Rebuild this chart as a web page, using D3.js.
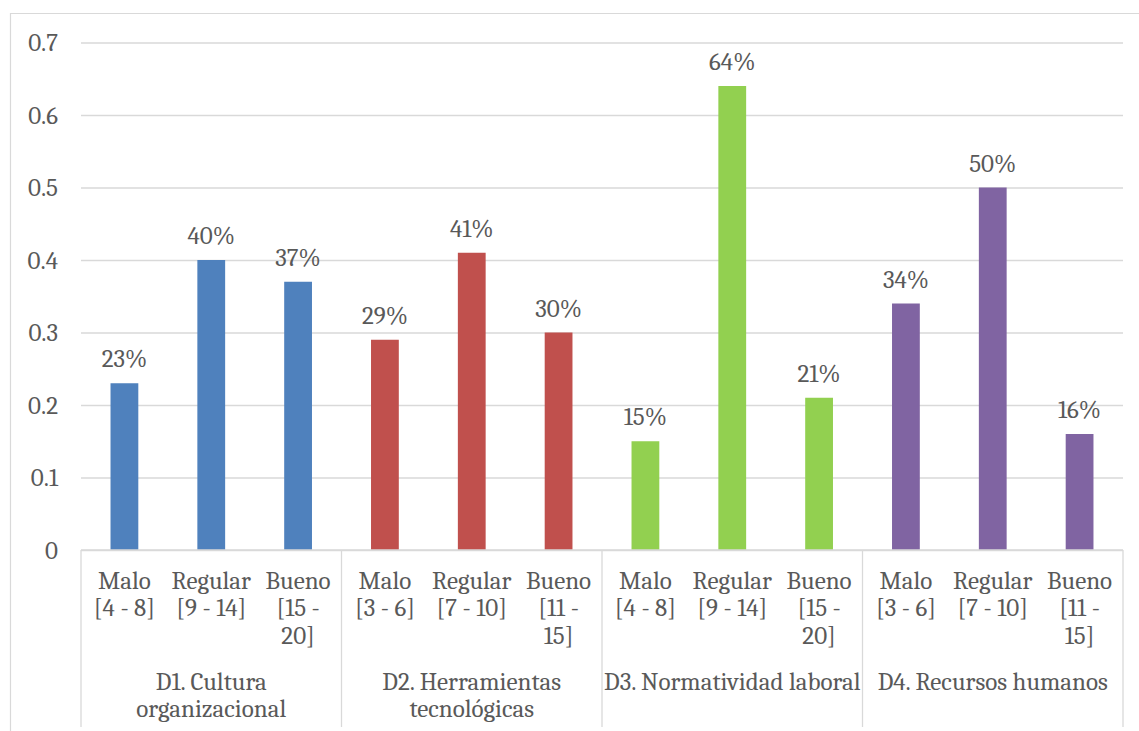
<!DOCTYPE html>
<html>
<head>
<meta charset="utf-8">
<script src="https://cdn.jsdelivr.net/npm/d3@7"></script>
<style>
  html, body { margin: 0; padding: 0; background: #fff; }
  svg { display: block; }
</style>
</head>
<body>
<svg id="chart" width="1139" height="731"></svg>
<script>
// Dimension groups and their levels (label lines as they wrap under the axis)
const groups = [
  ["D1. Cultura", "organizacional"],
  ["D2. Herramientas", "tecnológicas"],
  ["D3. Normatividad laboral"],
  ["D4. Recursos humanos"]
];
const categoryLabels = [
  [["Malo", "[4 - 8]"], ["Regular", "[9 - 14]"], ["Bueno", "[15 -", "20]"]],
  [["Malo", "[3 - 6]"], ["Regular", "[7 - 10]"], ["Bueno", "[11 -", "15]"]],
  [["Malo", "[4 - 8]"], ["Regular", "[9 - 14]"], ["Bueno", "[15 -", "20]"]],
  [["Malo", "[3 - 6]"], ["Regular", "[7 - 10]"], ["Bueno", "[11 -", "15]"]]
];
const d1Values = [0.23, 0.40, 0.37];
const d2Values = [0.29, 0.41, 0.30];
const d3Values = [0.15, 0.64, 0.21];
const d4Values = [0.34, 0.50, 0.16];
const groupColors = ["#4F81BD", "#C0504D", "#92D050", "#8064A2"];
const yTicks = [0, 0.1, 0.2, 0.3, 0.4, 0.5, 0.6, 0.7];
const yTickLabels = ["0", "0.1", "0.2", "0.3", "0.4", "0.5", "0.6", "0.7"];

const seriesValues = [d1Values, d2Values, d3Values, d4Values];

const FONT = 'Cambria, Caladea, "Liberation Serif", serif';
const TEXT_COLOR = "#595959";
const fontSize = 25;
const catGap = 27.5;
const grpGap = 26.5;

const svg = d3.select("#chart");
const plot = { left: 81, right: 1123, top: 42.5, bottom: 550 };

const styleText = sel => sel
  .style("font-family", FONT)
  .style("font-size", fontSize + "px")
  .style("fill", TEXT_COLOR);

// chart frame
svg.append("path")
  .attr("d", "M10.5,731 V13.5 H1139")
  .attr("fill", "none")
  .attr("stroke", "#d9d9d9")
  .attr("stroke-width", 1.2);

const y = d3.scaleLinear().domain([0, 0.7]).range([plot.bottom, plot.top]);
const xGroup = d3.scaleBand()
  .domain(d3.range(groups.length))
  .range([plot.left, plot.right])
  .padding(0);
const xCat = d3.scaleBand()
  .domain(d3.range(3))
  .range([0, xGroup.bandwidth()])
  .paddingInner(0.68)
  .paddingOuter(0.34);

// gridlines + value axis labels
const yAxis = d3.axisLeft(y)
  .tickValues(yTicks)
  .tickSize(-(plot.right - plot.left))
  .tickPadding(23)
  .tickFormat((d, i) => yTickLabels[i]);
const gy = svg.append("g")
  .attr("transform", `translate(${plot.left},0)`)
  .call(yAxis);
gy.select(".domain").remove();
gy.selectAll(".tick line").attr("stroke", "#d9d9d9").attr("stroke-width", 1.3);
gy.selectAll(".tick text").call(styleText);

// bars and percentage labels
const groupG = svg.selectAll("g.grp")
  .data(seriesValues)
  .join("g")
  .attr("class", "grp")
  .attr("transform", (d, i) => `translate(${xGroup(i)},0)`);

groupG.each(function (vals, gi) {
  const g = d3.select(this);
  g.selectAll("rect")
    .data(vals)
    .join("rect")
    .attr("x", (d, i) => xCat(i))
    .attr("width", xCat.bandwidth())
    .attr("y", d => y(d))
    .attr("height", d => y(0) - y(d))
    .attr("fill", groupColors[gi]);

  g.selectAll("text.val")
    .data(vals)
    .join("text")
    .attr("class", "val")
    .attr("x", (d, i) => xCat(i) + xCat.bandwidth() / 2)
    .attr("y", d => y(d) - 16)
    .attr("text-anchor", "middle")
    .call(styleText)
    .text(d => d3.format(".0%")(d));

  // category labels
  g.selectAll("text.cat")
    .data(categoryLabels[gi])
    .join("text")
    .attr("class", "cat")
    .attr("text-anchor", "middle")
    .call(styleText)
    .each(function (lines, i) {
      const cx = xCat(i) + xCat.bandwidth() / 2;
      d3.select(this).selectAll("tspan")
        .data(lines)
        .join("tspan")
        .attr("x", cx)
        .attr("y", (l, k) => 588.5 + k * catGap)
        .text(l => l);
    });

  // group label
  g.append("text")
    .attr("class", "grpLabel")
    .attr("text-anchor", "middle")
    .call(styleText)
    .selectAll("tspan")
    .data(groups[gi])
    .join("tspan")
    .attr("x", xGroup.bandwidth() / 2)
    .attr("y", (l, k) => 690 + k * grpGap)
    .text(l => l);
});

// category axis line and group dividers
svg.append("line")
  .attr("x1", plot.left).attr("x2", plot.right)
  .attr("y1", y(0)).attr("y2", y(0))
  .attr("stroke", "#d9d9d9").attr("stroke-width", 1.3);
const dividers = d3.range(groups.length + 1).map(i =>
  i < groups.length ? xGroup(i) : xGroup(i - 1) + xGroup.bandwidth());
svg.selectAll("line.div")
  .data(dividers)
  .join("line")
  .attr("class", "div")
  .attr("x1", d => d).attr("x2", d => d)
  .attr("y1", y(0)).attr("y2", 727)
  .attr("stroke", "#d9d9d9").attr("stroke-width", 1.3);
</script>
</body>
</html>
